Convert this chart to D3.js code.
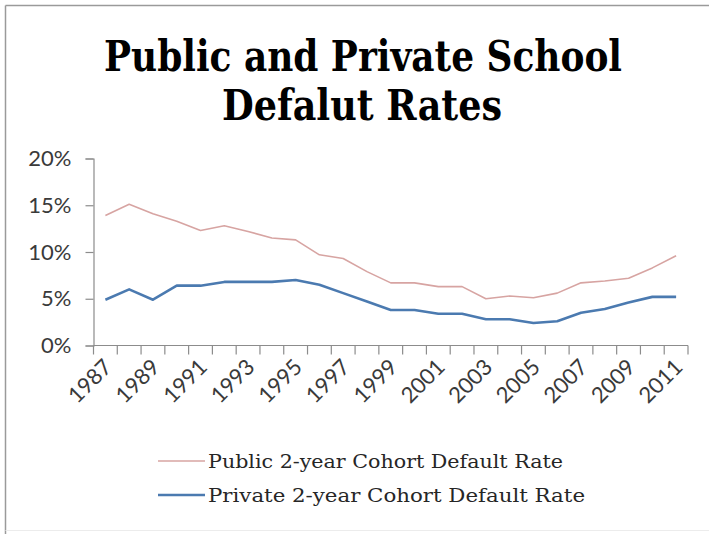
<!DOCTYPE html>
<html>
<head>
<meta charset="utf-8">
<script src="https://cdn.jsdelivr.net/npm/d3@7"></script>
<style>
  html, body { margin: 0; padding: 0; background: #fff; }
  svg { display: block; }
</style>
</head>
<body>
<svg id="chart" width="709" height="534"></svg>
<script>
// Cohort default rates by fiscal year
const years = d3.range(1987, 2012);
const publicRates  = [13.9, 15.1, 14.1, 13.3, 12.3, 12.8, 12.2, 11.5, 11.3, 9.7, 9.3, 7.9, 6.7, 6.7, 6.3, 6.3, 5.0, 5.3, 5.1, 5.6, 6.7, 6.9, 7.2, 8.3, 9.6];
const privateRates = [4.9, 6.0, 4.9, 6.4, 6.4, 6.8, 6.8, 6.8, 7.0, 6.5, 5.6, 4.7, 3.8, 3.8, 3.4, 3.4, 2.8, 2.8, 2.4, 2.6, 3.5, 3.9, 4.6, 5.2, 5.2];
const yTicks = [0, 5, 10, 15, 20];
const xTickLabels = years.filter(y => y % 2 === 1);
const seriesNames = ["Public 2-year Cohort Default Rate", "Private 2-year Cohort Default Rate"];
const titleLines = ["Public and Private School", "Defalut Rates"];

const svg = d3.select("#chart");
const W = 709, H = 534;

// frame
svg.append("line").attr("x1", 5.5).attr("x2", 5.5).attr("y1", 5.5).attr("y2", H).attr("stroke", "#9a9a9a").attr("stroke-width", 1.5);
svg.append("line").attr("x1", 5.5).attr("x2", W).attr("y1", 5.5).attr("y2", 5.5).attr("stroke", "#9a9a9a").attr("stroke-width", 1.5);
svg.append("line").attr("x1", 5.5).attr("x2", W).attr("y1", 530.5).attr("y2", 530.5).attr("stroke", "#ececec").attr("stroke-width", 1);

// title
const titleFont = "'DejaVu Serif Condensed', 'DejaVu Serif', serif";
svg.append("text").attr("x", 363).attr("y", 71)
  .attr("text-anchor", "middle").attr("font-family", titleFont).attr("font-weight", "bold")
  .attr("font-size", 43).attr("fill", "#000")
  .attr("textLength", 518).attr("lengthAdjust", "spacingAndGlyphs")
  .text(titleLines[0]);
svg.append("text").attr("x", 362).attr("y", 120)
  .attr("text-anchor", "middle").attr("font-family", titleFont).attr("font-weight", "bold")
  .attr("font-size", 43).attr("fill", "#000")
  .attr("textLength", 280).attr("lengthAdjust", "spacingAndGlyphs")
  .text(titleLines[1]);

// plot area
const plotLeft = 93.5, plotRight = 688, plotTop = 158.5, plotBottom = 345.5;
const x = d3.scaleBand().domain(years).range([plotLeft, plotRight]).padding(0);
const y = d3.scaleLinear().domain([0, 20]).range([plotBottom, plotTop]);
const axisColor = "#8c8c8c";
const tickFont = "Lato, 'Open Sans', sans-serif";

// y axis
const yAxis = svg.append("g").attr("transform", `translate(${plotLeft},0)`)
  .call(d3.axisLeft(y).tickValues(yTicks).tickFormat(d => d + "%").tickSize(8).tickPadding(14));
yAxis.select(".domain").attr("stroke", axisColor).attr("stroke-width", 1.2);
yAxis.selectAll(".tick line").attr("stroke", axisColor).attr("stroke-width", 1.2);
yAxis.selectAll(".tick text").attr("font-family", tickFont).attr("font-size", 22).attr("fill", "#3a3a3a");

// x axis: ticks at category boundaries
const xAxisG = svg.append("g").attr("transform", `translate(0,${plotBottom})`);
xAxisG.append("line").attr("x1", plotLeft).attr("x2", plotRight).attr("y1", 0).attr("y2", 0)
  .attr("stroke", axisColor).attr("stroke-width", 1.2);
const boundaries = years.map(d => x(d)).concat([plotRight]);
xAxisG.selectAll("line.tk").data(boundaries).enter().append("line").attr("class", "tk")
  .attr("x1", d => d).attr("x2", d => d).attr("y1", 0).attr("y2", 9)
  .attr("stroke", axisColor).attr("stroke-width", 1.2);
xAxisG.selectAll("text.lbl").data(xTickLabels).enter().append("text").attr("class", "lbl")
  .attr("transform", d => `translate(${x(d) + x.bandwidth() / 2 + 8},${23}) rotate(-45)`)
  .attr("text-anchor", "end").attr("font-family", tickFont).attr("font-size", 22).attr("fill", "#3a3a3a")
  .text(d => d);

// lines
const line = d3.line().x((d, i) => x(years[i]) + x.bandwidth() / 2).y(d => y(d));
const colors = ["#d7a4a2", "#4b7ab0"];
const widths = [1.6, 2.6];
[publicRates, privateRates].forEach((s, i) => {
  svg.append("path").datum(s).attr("d", line).attr("fill", "none")
    .attr("stroke", colors[i]).attr("stroke-width", widths[i]).attr("stroke-linejoin", "round");
});

// legend
const legendFont = "'DejaVu Serif Condensed', 'DejaVu Serif', serif";
const legendY = [461, 495];
const legendLen = [355, 377];
seriesNames.forEach((name, i) => {
  svg.append("line").attr("x1", 158).attr("x2", 205).attr("y1", legendY[i]).attr("y2", legendY[i])
    .attr("stroke", colors[i]).attr("stroke-width", widths[i]);
  svg.append("text").attr("x", 208).attr("y", legendY[i] + 7)
    .attr("font-family", legendFont).attr("font-size", 19).attr("fill", "#262626")
    .attr("textLength", legendLen[i]).attr("lengthAdjust", "spacingAndGlyphs")
    .text(name);
});
</script>
</body>
</html>
